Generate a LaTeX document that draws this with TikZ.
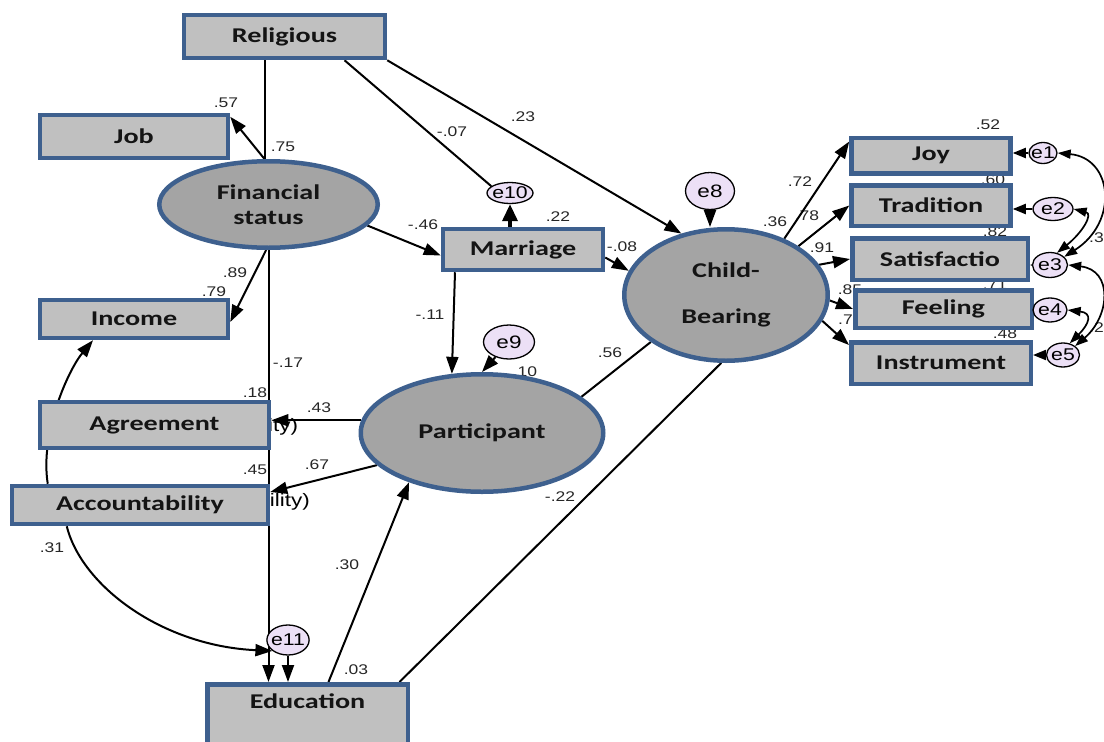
\documentclass[tikz,border=0pt]{standalone}
\usepackage{fontspec}
\newfontfamily\boxfont{Carlito}[FakeStretch=1.34]
\newfontfamily\numfont{Liberation Sans}[FakeStretch=1.25]
\usetikzlibrary{shapes.geometric,arrows.meta}
\definecolor{boxgray}{RGB}{192,192,192}
\definecolor{latgray}{RGB}{164,164,164}
\definecolor{rim}{RGB}{62,96,142}
\definecolor{errfill}{RGB}{236,224,246}
\definecolor{ink}{RGB}{20,20,20}
\pgfdeclarelayer{bg}
\pgfsetlayers{bg,main}

\begin{document}
\begin{tikzpicture}[x=1pt,y=-1pt,
    obsbox/.style={rectangle, draw=rim, fill=boxgray, line width=4.5pt, inner sep=0pt, text=ink, font=\boxfont\bfseries\fontsize{21}{25}\selectfont},
    latent/.style={ellipse, draw=rim, fill=latgray, line width=4.5pt, inner sep=0pt, align=center, text=ink, font=\boxfont\bfseries\fontsize{21}{25}\selectfont},
    errc/.style={ellipse, draw=black, fill=errfill, line width=1.3pt, inner sep=-2pt, font=\numfont\fontsize{17}{19}\selectfont},
    lbl/.style={inner sep=0pt, text=black!85, font=\numfont\fontsize{14}{16}\selectfont},
    frag/.style={inner sep=0pt, font=\numfont\fontsize{18}{20}\selectfont},
    plain/.style={line width=2pt},
    reg/.style={-{Triangle[length=17pt,width=12pt]}, line width=2pt},
    ereg/.style={-{Triangle[length=13pt,width=10pt]}, line width=2pt},
    cov/.style={{Triangle[length=13pt,width=9pt]}-{Triangle[length=13pt,width=9pt]}, line width=1.7pt}]
\useasboundingbox (0,0) rectangle (1104,742);

\node[obsbox, minimum width=201pt, minimum height=43pt] (religious) at (284.5,36.5) {Religious};
\node[obsbox, minimum width=188pt, minimum height=43pt] (job) at (134,136.5) {Job};
\node[obsbox, minimum width=188pt, minimum height=38pt] (income) at (134,319) {Income};
\node[obsbox, minimum width=229pt, minimum height=46pt] (agreement) at (154.5,425) {Agreement};
\node[obsbox, minimum width=256pt, minimum height=38pt] (accountability) at (140,505) {Accountability};
\node[obsbox, minimum width=200.5pt, text height=24pt, text depth=80pt, anchor=north] (education) at (307.5,682) {Education};
\node[obsbox, minimum width=160pt, minimum height=41pt] (marriage) at (523,249.5) {Marriage};
\node[obsbox, minimum width=159pt, minimum height=35.5pt] (joy) at (931,155.5) {Joy};
\node[obsbox, minimum width=159pt, minimum height=40.5pt] (tradition) at (931,205.5) {Tradition};
\node[obsbox, minimum width=175.5pt, minimum height=41.5pt] (satisf) at (940,259) {Satisfactio};
\node[obsbox, minimum width=176.5pt, minimum height=37.5pt] (feeling) at (943.5,309) {Feeling};
\node[obsbox, minimum width=179.5pt, minimum height=41.5pt] (instrument) at (941,363) {Instrument};

\node[latent, minimum width=218.5pt, minimum height=86.5pt] (finstat) at (268.5,204.5) {Financial\\status};
\node[latent, minimum width=242.5pt, minimum height=117.5pt] (participant) at (482,433) {Participant};
\node[latent, minimum width=203.5pt, minimum height=131.5pt] (childbearing) at (726,295) {Child-\\[21pt]Bearing};

\node[errc, minimum width=49pt, minimum height=37pt, font=\numfont\fontsize{18}{20}\selectfont] (e8) at (710,191) {e8};
\node[errc, minimum width=51pt, minimum height=34pt, font=\numfont\fontsize{18}{20}\selectfont] (e9) at (509,342) {e9};
\node[errc, minimum width=46pt, minimum height=21pt] (e10) at (510,193) {e10};
\node[errc, minimum width=40pt, minimum height=30pt] (e11) at (288,640) {e11};
\node[errc, minimum width=28pt, minimum height=21pt] (e1) at (1043,153) {e1};
\node[errc, minimum width=40pt, minimum height=23pt] (e2) at (1053,209) {e2};
\node[errc, minimum width=35pt, minimum height=25pt] (e3) at (1050,265) {e3};
\node[errc, minimum width=34pt, minimum height=24pt] (e4) at (1050,310) {e4};
\node[errc, minimum width=33pt, minimum height=24pt] (e5) at (1063,355) {e5};

\begin{pgfonlayer}{bg}
\node[lbl] (w57) at (226,103) {.57}; \node[lbl] (w75) at (283,147) {.75}; \node[lbl] (w07) at (452,132) {-.07}; \node[lbl] (w23) at (523,117) {.23};
\node[lbl] (w46) at (423,225) {-.46}; \node[lbl] (w22a) at (558,217) {.22}; \node[lbl] (w08) at (622,247) {-.08}; \node[lbl] (w11) at (430,315) {-.11};
\node[lbl] (w10) at (525,372) {.10}; \node[lbl] (w56) at (610,353) {.56}; \node[lbl] (w22b) at (560,497) {-.22};
\node[lbl] (w89) at (235,273) {.89}; \node[lbl] (w79) at (214,292) {.79}; \node[lbl] (w17) at (288,363) {-.17}; \node[lbl] (w18) at (255,393) {.18};
\node[lbl] (w43) at (319,408) {.43}; \node[lbl] (w45) at (255,470) {.45}; \node[lbl] (w67) at (317,465) {.67};
\node[lbl] (w31) at (52,548) {.31}; \node[lbl] (w30) at (347,565) {.30}; \node[lbl] (w03) at (356,670) {.03};
\node[lbl] (w72) at (800,182) {.72}; \node[lbl] (w36) at (775,222) {.36}; \node[lbl] (w78) at (807,216) {.78}; \node[lbl] (w91) at (822,248) {.91};
\node[lbl] (w85) at (850,290) {.85}; \node[lbl, anchor=west] (w7) at (838,320) {.7};
\node[lbl] (w52) at (988,125) {.52}; \node[lbl] (w60) at (993,180) {.60}; \node[lbl] (w82) at (995,232) {.82}; \node[lbl] (w71) at (995,285) {.71}; \node[lbl] (w48) at (1005,334) {.48};
\node[lbl, anchor=east] (w3) at (1104,238) {.3}; \node[lbl, anchor=east] (w2) at (1104,328) {.2};
\node[frag, anchor=west] (agrtail) at (268,427) {ity)}; \node[frag, anchor=east] (acctail) at (310,502) {ility)};

\draw[plain] ([xshift=-4pt]finstat.north |- religious.south) -- ([xshift=-4pt]finstat.north);
\draw[reg] ([xshift=-4pt]finstat.north) -- ([yshift=-4pt]job.north east);
\draw[plain] ([xshift=60pt]religious.south) -- (e10.160);
\draw[reg] (religious.south east) -- (childbearing.126);
\draw[reg] (finstat.-12) -- ([yshift=-6pt]marriage.west);
\draw[-{Triangle[length=17pt,width=15pt]}, line width=3.5pt] (e10.south |- marriage.north) -- (e10.south);
\draw[reg] ([yshift=-8pt]marriage.east) -- (childbearing.166);
\draw[reg] ([xshift=-68pt]marriage.south) -- (participant.117);
\draw[reg] (e9) -- (participant.north);
\draw[reg] (e8.south) -- (e8.south |- childbearing.north);
\draw[reg] (childbearing.44) -- ([yshift=14pt]joy.west);
\draw[reg] (childbearing.34) -- (tradition.west);
\draw[reg] (childbearing.18) -- (satisf.west);
\draw[reg] (childbearing.-3) -- (feeling.west);
\draw[reg] (childbearing.-15) -- ([yshift=-5pt]instrument.north west);
\draw[reg] (finstat.-93) -- ([yshift=-3pt]income.east);
\draw[reg] (finstat.south) -- (finstat.south |- education.north);
\draw[reg] (participant.174) -- (participant.174 -| agreement.east);
\draw[reg] (participant.197) -- ([yshift=13pt]accountability.east);
\draw[plain] (participant.20) -- (childbearing.212);
\draw[reg] ([xshift=21pt]education.north) -- (participant.214);
\draw[plain] ([xshift=92pt]education.north) -- (childbearing.266);
\draw[reg] (e11.south) -- (e11.south |- education.north);
\draw[reg] ([xshift=38pt]accountability.north west) .. controls +(-8,-50) and +(-25,30) .. ([xshift=-41pt]income.south);
\draw[reg] ([xshift=57pt]accountability.south west) .. controls +(15,60) and +(-110,-5) .. (e11.215);
\draw[ereg] (e1) -- (e1 -| joy.east); \draw[ereg] (e2) -- (e2 -| tradition.east); \draw[ereg] (e3) -- (e3 -| satisf.east);
\draw[ereg] (e4) -- (e4 -| feeling.east); \draw[ereg] (e5) -- (e5 -| instrument.east);
\draw[cov] (e1.east) .. controls +(55,5) and +(55,-35) .. (e3.30);
\draw[cov] (e2.east) .. controls +(20,5) and +(25,-20) .. (e3.60);
\draw[cov] (e3.east) .. controls +(45,5) and +(35,-30) .. (e5.north east);
\draw[cov] (e4.east) .. controls +(25,3) and +(20,-20) .. (e5.60);
\end{pgfonlayer}
\end{tikzpicture}
\end{document}
